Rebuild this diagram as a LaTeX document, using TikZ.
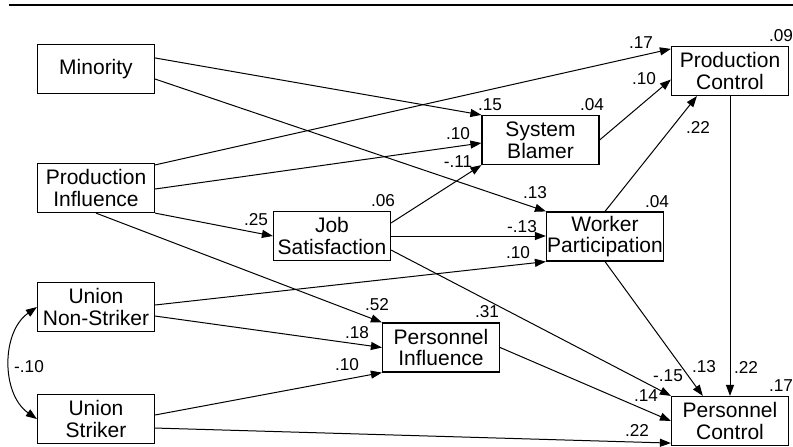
\documentclass[tikz,border=0pt]{standalone}
\usepackage{fontspec}
\setmainfont{Liberation Sans}
\usetikzlibrary{arrows.meta,calc}
\begin{document}
\begin{tikzpicture}[x=0.5pt,y=-0.5pt,
 box/.style={draw,line width=0.6pt,minimum width=58.5pt,minimum height=24.5pt,inner sep=0pt,align=center,font=\fontsize{10.5}{10.8}\selectfont},
 lbl/.style={inner sep=0pt,font=\fontsize{8.6}{10}\selectfont},
 tip/.tip={Triangle[length=5.5pt,width=4pt]},
 arr/.style={line width=0.5pt,-tip},
 darr/.style={line width=0.5pt,tip-tip}]
\useasboundingbox (0,0) rectangle (793,446);
\draw[line width=1.25pt] (9,5) -- (793,5);
% boxes
\node[box] (min) at (96,69) {Minority};
\node[box] (pi) at (96,188) {Production\\Influence};
\node[box] (js) at (332,236) {Job\\Satisfaction};
\node[box] (uns) at (96,307) {Union\\Non-Striker};
\node[box] (us) at (96,419) {Union\\Striker};
\node[box] (peri) at (441,347.5) {Personnel\\Influence};
\node[box] (sb) at (540.5,140) {System\\Blamer};
\node[box] (pc) at (730,71) {Production\\Control};
\node[box] (wp) at (605,236.5) {Worker\\Participation};
\node[box] (pec) at (730,421) {Personnel\\Control};
% connectors
\draw[arr] ($(min.north east)!0.28!(min.south east)$) -- (sb.north west);
\draw[arr] ($(min.north east)!0.70!(min.south east)$) -- (wp.north west);
\draw[arr] ($(pi.north east)!0.04!(pi.south east)$) -- ($(pc.north west)!0.06!(pc.south west)$);
\draw[arr] ($(pi.north east)!0.52!(pi.south east)$) -- ($(sb.north west)!0.56!(sb.south west)$);
\draw[arr] (pi.south east) -- (js.west);
\draw[arr] (pi.south) -- (peri.north west);
\draw[arr] ($(js.north east)!0.24!(js.south east)$) -- (sb.south west);
\draw[arr] (js.east) -- (js.east -| wp.west);
\draw[arr] ($(js.north east)!0.78!(js.south east)$) -- (pec.north west);
\draw[arr] ($(uns.north east)!0.46!(uns.south east)$) -- (wp.south west);
\draw[arr] ($(uns.north east)!0.68!(uns.south east)$) -- (peri.west);
\draw[arr] ($(us.north east)!0.42!(us.south east)$) -- (peri.south west);
\draw[arr] ($(us.north east)!0.68!(us.south east)$) -- ($(pec.north west)!0.94!(pec.south west)$);
\draw[arr] (peri.east) -- (pec.west);
\draw[arr] (sb.east) -- ($(pc.north west)!0.67!(pc.south west)$);
\draw[arr] (wp.north) -- ($(pc.south west)!0.22!(pc.south east)$);
\draw[arr] (wp.south) -- ($(pec.north west)!0.27!(pec.north east)$);
\draw[arr] (pc.south) -- (pec.north);
\draw[darr] (uns.west) to[bend right=55] (us.west);
% labels
\node[lbl] (l01) at (781,36) {.09};
\node[lbl] (l02) at (641,43) {.17};
\node[lbl] (l03) at (644,79) {.10};
\node[lbl] (l04) at (490,105) {.15};
\node[lbl] (l05) at (592,105) {.04};
\node[lbl] (l06) at (458,134) {.10};
\node[lbl] (l07) at (458,162) {-.11};
\node[lbl] (l08) at (698,127) {.22};
\node[lbl] (l09) at (535,193) {.13};
\node[lbl] (l10) at (657,202) {.04};
\node[lbl] (l11) at (383,201) {.06};
\node[lbl] (l12) at (256,220) {.25};
\node[lbl] (l13) at (522,227) {-.13};
\node[lbl] (l14) at (518,253) {.10};
\node[lbl] (l15) at (487,312) {.31};
\node[lbl] (l16) at (377,305) {.52};
\node[lbl] (l17) at (357,333) {.18};
\node[lbl] (l18) at (347,365) {.10};
\node[lbl] (l19) at (29,367) {-.10};
\node[lbl] (l20) at (668,376) {-.15};
\node[lbl] (l21) at (704,367) {.13};
\node[lbl] (l22) at (746,367) {.22};
\node[lbl] (l23) at (781,386) {.17};
\node[lbl] (l24) at (646,396) {.14};
\node[lbl] (l25) at (637,430) {.22};
\end{tikzpicture}
\end{document}
